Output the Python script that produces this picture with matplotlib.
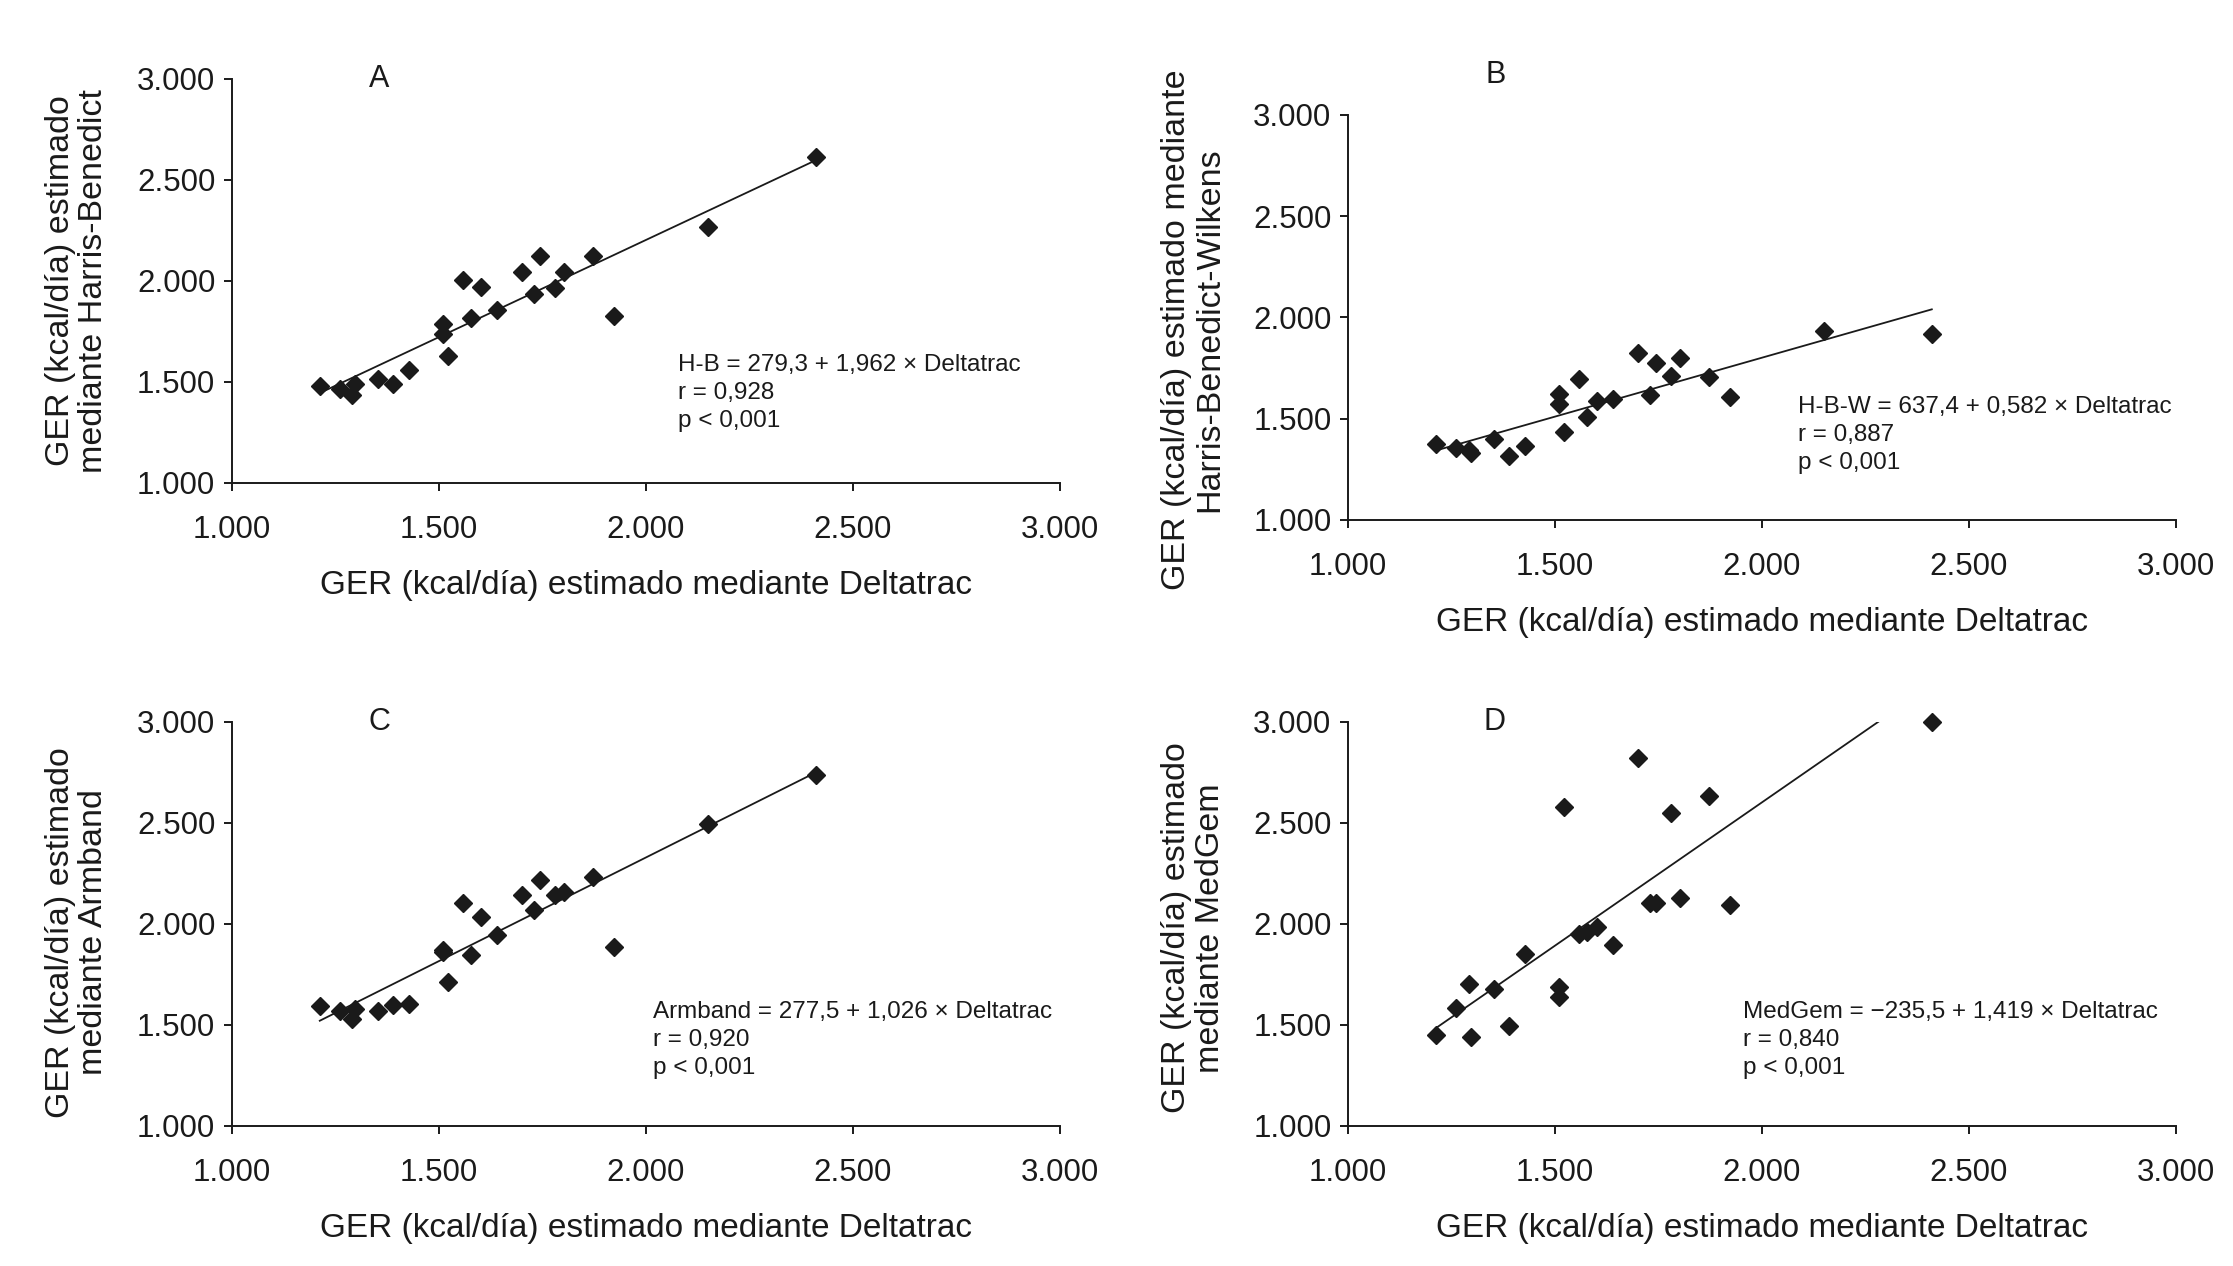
import numpy as np
import matplotlib
matplotlib.use("Agg")
from matplotlib import pyplot as plt

plt.rcParams['font.family'] = ['Liberation Sans', 'DejaVu Sans']

# Deltatrac values (shared x for all panels), kcal/dia
deltatrac = [1212, 1260, 1296, 1291, 1352, 1389, 1428, 1510, 1510, 1521, 1559, 1578,
             1602, 1639, 1700, 1729, 1743, 1781, 1802, 1872, 1922, 2150, 2410]

harris_benedict = [1482, 1466, 1488, 1437, 1517, 1492, 1560, 1787, 1737, 1629, 2007, 1816,
                   1970, 1857, 2046, 1934, 2125, 1964, 2046, 2125, 1826, 2265, 2613]
hb_wilkens = [1377, 1354, 1330, 1346, 1401, 1314, 1366, 1623, 1573, 1435, 1696, 1508,
              1587, 1597, 1822, 1619, 1775, 1711, 1800, 1708, 1609, 1931, 1917]
armband = [1594, 1570, 1580, 1530, 1570, 1600, 1606, 1872, 1862, 1715, 2106, 1848,
           2037, 1947, 2142, 2071, 2219, 2142, 2160, 2235, 1886, 2494, 2736]
medgem = [1450, 1585, 1440, 1704, 1678, 1496, 1850, 1688, 1638, 2580, 1950, 1960,
          1985, 1896, 2822, 2104, 2104, 2550, 2128, 2635, 2094, np.nan, 3000]

# regression lines as drawn
fit_intercept = [279.3, 637.4, 277.5, -235.5]
fit_slope = [0.962, 0.582, 1.026, 1.419]

panel_letters = ["A", "B", "C", "D"]
ylabels = ["GER (kcal/día) estimado\nmediante Harris-Benedict",
           "GER (kcal/día) estimado mediante\nHarris-Benedict-Wilkens",
           "GER (kcal/día) estimado\nmediante Armband",
           "GER (kcal/día) estimado\nmediante MedGem"]
xlabel = "GER (kcal/día) estimado mediante Deltatrac"
equations = ["H-B = 279,3 + 1,962 × Deltatrac\nr = 0,928\np < 0,001",
             "H-B-W = 637,4 + 0,582 × Deltatrac\nr = 0,887\np < 0,001",
             "Armband = 277,5 + 1,026 × Deltatrac\nr = 0,920\np < 0,001",
             "MedGem = −235,5 + 1,419 × Deltatrac\nr = 0,840\np < 0,001"]
ticks = [1000, 1500, 2000, 2500, 3000]
tick_labels = ["1.000", "1.500", "2.000", "2.500", "3.000"]

series = [harris_benedict, hb_wilkens, armband, medgem]

# layout (figure fractions) and text anchors (data coords)
axes_rects = [[0.1039, 0.6185, 0.3708, 0.3191],
              [0.6037, 0.5893, 0.3708, 0.3199],
              [0.1039, 0.1106, 0.3708, 0.3191],
              [0.6037, 0.1106, 0.3708, 0.3191]]
letter_pos = [(1355, 3000), (1356, 3198), (1355, 3000), (1353, 3000)]
eq_pos = [(2077, 1639), (2087, 1612), (2017, 1619), (1954, 1619)]
ylabel_y = [0.5, 0.47, 0.48, 0.49]

fig = plt.figure(figsize=(22.33, 12.66), dpi=100)

for i in range(4):
    ax = fig.add_axes(axes_rects[i])
    x = np.array(deltatrac, float)
    y = np.array(series[i], float)

    ax.plot(x, y, linestyle='none', marker='D', markersize=8.8,
            color='#1a1a1a', clip_on=False, zorder=3)

    xl = np.array([x.min(), x.max()])
    ax.plot(xl, fit_intercept[i] + fit_slope[i] * xl, color='#1a1a1a', lw=1.3)

    ax.set_xlim(1000, 3000)
    ax.set_ylim(1000, 3000)
    ax.set_xticks(ticks)
    ax.set_xticklabels(tick_labels)
    ax.set_yticks(ticks)
    ax.set_yticklabels(tick_labels)

    for side in ['top', 'right']:
        ax.spines[side].set_visible(False)
    for side in ['left', 'bottom']:
        ax.spines[side].set_linewidth(1.4)
        ax.spines[side].set_color('#1a1a1a')

    ax.tick_params(axis='both', direction='out', length=6, width=1.4,
                   color='#1a1a1a', labelsize=22.5, labelcolor='#1a1a1a')
    ax.tick_params(axis='x', pad=17)
    ax.tick_params(axis='y', pad=6)

    ax.set_xlabel(xlabel, fontsize=24, color='#1a1a1a')
    ax.xaxis.set_label_coords(0.5, -0.215)
    ax.set_ylabel(ylabels[i], fontsize=24.5, color='#1a1a1a', linespacing=1.1)
    ax.yaxis.set_label_coords(-0.148, ylabel_y[i])

    ax.text(letter_pos[i][0], letter_pos[i][1], panel_letters[i], fontsize=22,
            ha='center', va='center', color='#1a1a1a', clip_on=False)
    ax.text(eq_pos[i][0], eq_pos[i][1], equations[i], fontsize=17.5,
            ha='left', va='top', color='#1a1a1a', linespacing=1.35)

fig.savefig("out.png", dpi=100, facecolor='white')
